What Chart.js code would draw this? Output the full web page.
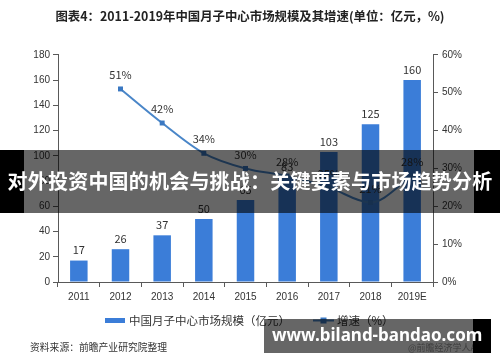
<!DOCTYPE html>
<html>
<head>
<meta charset="utf-8">
<script src="https://cdn.jsdelivr.net/npm/chart.js@4.4.0/dist/chart.umd.min.js"></script>
<style>
  html, body { margin: 0; padding: 0; background: #fff; }
  #wrap { position: relative; width: 500px; height: 362px; overflow: hidden; }
  #chart { position: absolute; left: 0; top: 0; }
  .band { position: absolute; left: 0; top: 150px; width: 500px; height: 63px;
    background: linear-gradient(to right, #000 0, #000 24px, rgba(0,0,0,0.6) 24px, rgba(0,0,0,0.6) 474px, #000 474px); }
  .band span { position: absolute; left: 0; width: 500px; top: 18px; text-align: center; color: #fff;
    font: bold 20px "Noto Sans CJK SC", sans-serif; line-height: 26px; letter-spacing: 0.2px; }
  .faint { position: absolute; left: 408px; top: 341px; font: 9px "Noto Sans CJK SC", sans-serif; color: #999; }
  .site { position: absolute; left: 264px; top: 319px; width: 227px; height: 34px;
    background: linear-gradient(to right, rgba(0,0,0,0.6) 0, rgba(0,0,0,0.6) 209px, #000 209px); }
  .site span { position: absolute; left: 8px; top: 5px; color: #fff; font: bold 17px "Noto Sans", sans-serif; line-height: 22px; }
</style>
</head>
<body>
<div id="wrap">
  <canvas id="chart" width="500" height="362"></canvas>
  <div class="faint">@前瞻经济学人APP</div>
  <div class="band"><span>对外投资中国的机会与挑战：关键要素与市场趋势分析</span></div>
  <div class="site"><span>www.biland-bandao.com</span></div>
</div>
<script>
const years = ["2011", "2012", "2013", "2014", "2015", "2016", "2017", "2018", "2019E"];
const marketSize = [17, 26, 37, 50, 65, 83, 103, 125, 160];
const growthRate = [null, 51, 42, 34, 30, 28, 25, 21, 28];
const leftTicks = [0, 20, 40, 60, 80, 100, 120, 140, 160, 180];
const rightTicks = [0, 10, 20, 30, 40, 50, 60];
const sourceNote = "资料来源：前瞻产业研究院整理";

const barColor = "#3b7dd8";
const lineColor = "#4a86c8";
const markerColor = "#3a78c2";
const cjk = "'Noto Sans CJK SC', sans-serif";

const valueLabels = {
  id: "valueLabels",
  afterDatasetsDraw(chart) {
    const ctx = chart.ctx;
    ctx.save();
    ctx.font = "11px " + cjk;
    ctx.fillStyle = "#333";
    ctx.textAlign = "center";
    ctx.textBaseline = "bottom";
    chart.getDatasetMeta(0).data.forEach(function(bar, i) {
      ctx.fillText(marketSize[i], bar.x, bar.y - 5);
    });
    ctx.textBaseline = "middle";
    chart.getDatasetMeta(1).data.forEach(function(pt, i) {
      if (growthRate[i] === null) return;
      ctx.fillText(growthRate[i] + "%", pt.x, pt.y - 14);
    });
    ctx.restore();
  },
  afterDraw(chart) {
    // legend and source note, drawn by hand to match the original placement
    const ctx = chart.ctx;
    const ds = chart.data.datasets;
    ctx.save();
    ctx.fillStyle = barColor;
    ctx.fillRect(105, 318, 20, 5);
    ctx.strokeStyle = lineColor;
    ctx.lineWidth = 2;
    ctx.beginPath();
    ctx.moveTo(313, 320.5);
    ctx.lineTo(334, 320.5);
    ctx.stroke();
    ctx.fillStyle = markerColor;
    ctx.fillRect(320.5, 317.5, 6, 6);
    ctx.fillStyle = "#333";
    ctx.font = "11.5px " + cjk;
    ctx.textBaseline = "middle";
    ctx.textAlign = "left";
    ctx.fillText(ds[0].label, 129, 320.5);
    ctx.fillText(ds[1].label, 337, 320.5);
    ctx.font = "9.8px " + cjk;
    ctx.fillText(sourceNote, 30, 347.5);
    ctx.restore();
  }
};

new Chart(document.getElementById("chart").getContext("2d"), {
  data: {
    labels: years,
    datasets: [
      {
        type: "bar",
        label: "中国月子中心市场规模（亿元）",
        data: marketSize,
        backgroundColor: barColor,
        barPercentage: 0.42,
        categoryPercentage: 1,
        yAxisID: "y",
        order: 2
      },
      {
        type: "line",
        label: "增速（%）",
        data: growthRate,
        borderColor: lineColor,
        backgroundColor: markerColor,
        borderWidth: 2,
        pointStyle: "rect",
        pointRadius: 3.5,
        pointBackgroundColor: markerColor,
        pointBorderWidth: 0,
        cubicInterpolationMode: "monotone",
        yAxisID: "y1",
        order: 1
      }
    ]
  },
  options: {
    responsive: false,
    animation: false,
    layout: { padding: { left: 0, right: 0, top: 0, bottom: 55 } },
    scales: {
      x: {
        grid: { display: true, drawOnChartArea: false, offset: true, color: "#595959", tickLength: 5 },
        border: { color: "#595959" },
        ticks: { color: "#333", font: { size: 10 }, padding: 4 }
      },
      y: {
        position: "left",
        min: 0, max: 180,
        afterBuildTicks(axis) { axis.ticks = leftTicks.map(v => ({ value: v })); },
        afterFit(axis) { axis.width = 58; },
        grid: { drawOnChartArea: false, color: "#595959", tickLength: 5 },
        border: { color: "#595959" },
        ticks: { color: "#333", font: { size: 10 }, padding: 3 }
      },
      y1: {
        position: "right",
        min: 0, max: 60,
        afterBuildTicks(axis) { axis.ticks = rightTicks.map(v => ({ value: v })); },
        afterFit(axis) { axis.width = 67; },
        grid: { drawOnChartArea: false, color: "#595959", tickLength: 5 },
        border: { color: "#595959" },
        ticks: { color: "#333", font: { size: 10 }, padding: 4, callback: v => v + "%" }
      }
    },
    plugins: {
      title: {
        display: true,
        text: "图表4：2011-2019年中国月子中心市场规模及其增速(单位：亿元，%)",
        color: "#222",
        font: { size: 12.4, weight: "bold", family: cjk },
        padding: { top: 9, bottom: 31 }
      },
      legend: { display: false },
      tooltip: { enabled: false }
    }
  },
  plugins: [valueLabels]
});
</script>
</body>
</html>
